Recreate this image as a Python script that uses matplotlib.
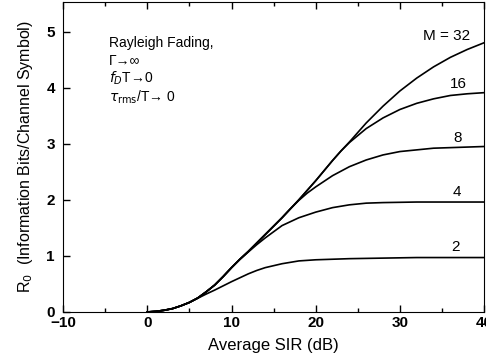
import matplotlib.pyplot as plt

# values (Average SIR in dB -> R0)
sir_2 = [0, 1, 2, 3, 4, 5, 6, 7, 8, 9, 10, 11, 12, 13, 14, 16, 18, 20, 24, 28, 32, 40]
r0_2 = [0.0, 0.01, 0.03, 0.06, 0.11, 0.17, 0.245, 0.32, 0.39, 0.465, 0.54, 0.61, 0.68, 0.74, 0.79, 0.86, 0.91, 0.93, 0.95, 0.96, 0.97, 0.97]

sir_4 = [0, 1, 2, 3, 4, 5, 6, 7, 8, 9, 10, 11, 12, 13, 14, 16, 18, 20, 22, 24, 26, 28, 32, 40]
r0_4 = [0.0, 0.01, 0.03, 0.06, 0.11, 0.17, 0.25, 0.36, 0.48, 0.63, 0.79, 0.94, 1.07, 1.20, 1.32, 1.54, 1.68, 1.78, 1.86, 1.91, 1.94, 1.95, 1.96, 1.96]

sir_8 = [0, 1, 2, 3, 4, 5, 6, 7, 8, 9, 10, 11, 12, 13, 14, 15, 16, 17, 18, 19, 20, 22, 24, 26, 28, 30, 34, 40]
r0_8 = [0.0, 0.01, 0.03, 0.06, 0.11, 0.17, 0.25, 0.36, 0.48, 0.63, 0.79, 0.94, 1.08, 1.23, 1.38, 1.53, 1.68, 1.84, 1.99, 2.12, 2.23, 2.43, 2.59, 2.71, 2.80, 2.86, 2.92, 2.95]

sir_16 = [0, 1, 2, 3, 4, 5, 6, 7, 8, 9, 10, 11, 12, 13, 14, 15, 16, 17, 18, 19, 20, 21, 22, 23, 24, 26, 28, 30, 32, 34, 36, 38, 40]
r0_16 = [0.0, 0.01, 0.03, 0.06, 0.11, 0.17, 0.25, 0.36, 0.48, 0.63, 0.79, 0.94, 1.08, 1.23, 1.38, 1.53, 1.68, 1.84, 2.00, 2.17, 2.34, 2.52, 2.70, 2.87, 3.02, 3.27, 3.46, 3.61, 3.72, 3.80, 3.86, 3.89, 3.91]

sir_32 = [0, 1, 2, 3, 4, 5, 6, 7, 8, 9, 10, 11, 12, 13, 14, 15, 16, 17, 18, 19, 20, 21, 22, 23, 24, 25, 26, 28, 30, 32, 34, 36, 38, 40]
r0_32 = [0.0, 0.01, 0.03, 0.06, 0.11, 0.17, 0.25, 0.36, 0.48, 0.63, 0.79, 0.94, 1.08, 1.23, 1.38, 1.53, 1.68, 1.84, 2.00, 2.17, 2.34, 2.52, 2.70, 2.87, 3.03, 3.20, 3.37, 3.67, 3.94, 4.17, 4.37, 4.54, 4.68, 4.80]

labels = ["2", "4", "8", "16", "M = 32"]
label_pos = [(36.6, 1.16), (36.8, 2.13), (36.9, 3.1), (36.9, 4.06), (35.6, 4.92)]

note_lines = ["Rayleigh Fading,", "\u0393\u2192\u221e", "$f_D$T\u21920", "$\\tau_{\\rm rms}$/T\u2192 0"]
note_y = [4.8, 4.48, 4.16, 3.82]

plt.rcParams["font.family"] = ["Liberation Sans", "DejaVu Sans"]

fig = plt.figure(figsize=(4.86, 3.64), dpi=100)
ax = fig.add_axes([0.13, 0.143, 0.866, 0.852])

for x, y in [(sir_2, r0_2), (sir_4, r0_4), (sir_8, r0_8), (sir_16, r0_16), (sir_32, r0_32)]:
    ax.plot(x, y, color="black", lw=1.2)

for lab, (lx, ly) in zip(labels, label_pos):
    ax.text(lx, ly, lab, ha="center", va="center", fontsize=11)

for line, ly in zip(note_lines, note_y):
    ax.text(-4.6, ly, line, fontsize=10, va="center")

ax.set_xlim(-10, 40)
ax.set_ylim(0, 5.53)
ax.set_xticks([-10, 0, 10, 20, 30, 40])
ax.set_xticklabels(["\u221210", "0", "10", "20", "30", "40"])
ax.set_xticks([-5, 5, 15, 25, 35], minor=True)
ax.set_yticks([0, 1, 2, 3, 4, 5])
ax.tick_params(which="both", direction="in", top=True, right=False, width=1)
ax.tick_params(which="major", length=5)
ax.tick_params(which="minor", length=3)
ax.tick_params(axis="x", pad=3)
ax.tick_params(axis="y", pad=6)
for lab in ax.get_xticklabels() + ax.get_yticklabels():
    lab.set_fontweight("bold")
    lab.set_fontsize(11)

ax.set_xlabel("Average SIR (dB)", fontsize=12, labelpad=6)
ax.set_ylabel("R$_0$  (Information Bits/Channel Symbol)", fontsize=11.5, labelpad=8)

plt.savefig("out.png")
